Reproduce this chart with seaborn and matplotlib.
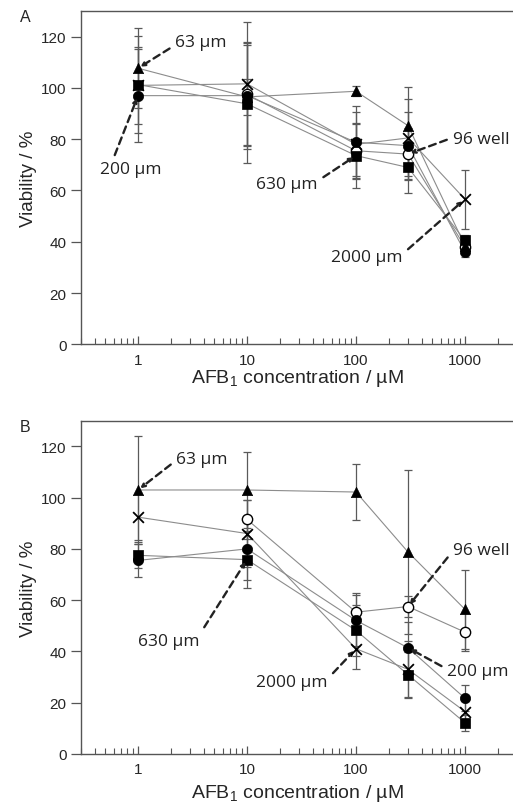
import matplotlib
matplotlib.use("Agg")
import matplotlib.pyplot as plt
from matplotlib.ticker import LogLocator, NullFormatter
import seaborn as sns
import pandas as pd
import numpy as np

conc = [1, 10, 100, 300, 1000]
series = ["63 µm", "200 µm", "630 µm", "2000 µm", "96 well"]

# panel A: viability (%) and error
a_63 = [107.7, 96.5, 98.7, 85.3, 38.5]
a_200 = [97.0, 97.0, 78.8, 77.5, 36.0]
a_630 = [101.3, 93.8, 73.6, 69.0, 40.5]
a_2000 = [101.0, 101.6, 78.0, 80.5, 56.6]
a_96 = [np.nan, 97.5, 75.5, 74.2, 38.0]
a_63_err = [15.5, 7, 2, 15, 3]
a_200_err = [18, 21, 14, 13, 2]
a_630_err = [19, 23, 12.5, 9.8, 2]
a_2000_err = [15, 24, 12.5, 15, 11.5]
a_96_err = [np.nan, 20, 11, 10, 2]

# panel B
b_63 = [103.0, 103.0, 102.2, 78.8, 56.4]
b_200 = [75.5, 80.0, 52.1, 41.4, 21.7]
b_630 = [77.5, 75.8, 48.2, 30.9, 12.1]
b_2000 = [92.4, 86.0, 41.0, 33.0, 16.5]
b_96 = [np.nan, 91.5, 55.3, 57.5, 47.5]
b_63_err = [21, 15, 11, 32, 15.5]
b_200_err = [6.5, 12, 10, 10, 5]
b_630_err = [5, 11, 10, 9, 3]
b_2000_err = [9, 13, 8, 11, 4]
b_96_err = [np.nan, 7.5, 7.5, 4, 7.5]

# label text, text centre, arrow target, arrow start on the text box
a_notes = [("63 µm", (3.78, 118), (1, 107.7), (0, 0.3)),
           ("200 µm", (0.86, 68.4), (1, 97), (0.2, 1)),
           ("630 µm", (23.3, 62.5), (100, 73.6), (1, 0.7)),
           ("96 well", (1403, 80), (300, 74.2), (0, 0.6)),
           ("2000 µm", (126, 34), (1000, 56.6), (1, 0.7))]
b_notes = [("63 µm", (3.86, 115.2), (1, 103), (0, 0.4)),
           ("96 well", (1403, 79.7), (300, 57.5), (0, 0.4)),
           ("630 µm", (1.92, 44.1), (10, 75.8), (1, 0.9)),
           ("2000 µm", (25.9, 28.1), (100, 41), (1, 0.7)),
           ("200 µm", (1316, 32.4), (300, 41.4), (0, 0.6))]

sns.set_style("ticks")
plt.rcParams['font.family'] = ['Liberation Sans', 'DejaVu Sans']
plt.rcParams['mathtext.default'] = 'regular'

markers = {"63 µm": "^", "200 µm": "o", "630 µm": "s", "2000 µm": "X", "96 well": "o"}


def draw(ax, vals, errs, notes, xpad):
    df = pd.DataFrame({
        "conc": np.tile(conc, len(series)),
        "val": np.concatenate(vals),
        "series": np.repeat(series, len(conc)),
    }).dropna()
    sns.lineplot(data=df, x="conc", y="val", units="series", estimator=None,
                 color="#8c8c8c", lw=0.8, ax=ax, sort=False, zorder=1)
    for name, v, e in zip(series, vals, errs):
        ax.errorbar(conc, v, yerr=e, fmt="none", ecolor="#5a5a5a",
                    elinewidth=0.9, capsize=3, capthick=0.9, zorder=2)
        sub = df[df["series"] == name]
        if name == "2000 µm":
            sns.scatterplot(data=sub, x="conc", y="val", marker="x", s=60,
                            color="black", linewidth=1.3, ax=ax, zorder=3.5)
        elif name == "96 well":
            # open circles sit underneath the filled markers
            sns.scatterplot(data=sub, x="conc", y="val", marker="o", s=55,
                            color="white", edgecolor="black", linewidth=1.0,
                            ax=ax, zorder=2.5)
        else:
            sns.scatterplot(data=sub, x="conc", y="val", marker=markers[name],
                            s=55, color="black", edgecolor="black",
                            linewidth=0.5, ax=ax, zorder=3)
    for text, xyt, xy, rp in notes:
        ax.annotate(text, xy=xy, xytext=xyt, ha="center", va="center",
                    fontsize=12.5, family=["Open Sans", "DejaVu Sans"],
                    color="#222222", annotation_clip=False,
                    arrowprops=dict(arrowstyle="-|>", ls=(0, (3, 2)), lw=1.7,
                                    color="#222222", shrinkA=2, shrinkB=2,
                                    mutation_scale=6, relpos=rp))
    ax.set_xscale("log")
    ax.set_xlim(0.3, 2760)
    ax.set_ylim(0, 130)
    ax.set_xticks([1, 10, 100, 1000])
    ax.set_xticklabels(["1", "10", "100", "1000"])
    ax.xaxis.set_minor_locator(LogLocator(base=10, subs=np.arange(2, 10)))
    ax.xaxis.set_minor_formatter(NullFormatter())
    ax.set_yticks([0, 20, 40, 60, 80, 100, 120])
    ax.tick_params(axis="x", which="major", direction="in", length=6,
                   width=0.9, color="#555555", labelsize=11, pad=6)
    ax.tick_params(axis="x", which="minor", direction="in", length=4,
                   width=0.8, color="#555555")
    ax.tick_params(axis="y", direction="out", length=7, width=0.9,
                   color="#555555", labelsize=11)
    for s in ["left", "bottom", "top"]:
        ax.spines[s].set_visible(True)
        ax.spines[s].set_color("#555555")
        ax.spines[s].set_linewidth(1.0)
    ax.spines["right"].set_visible(False)
    ax.set_xlabel("AFB$_1$ concentration / µM", fontsize=14, labelpad=xpad)
    ax.set_ylabel("Viability / %", fontsize=13.5, labelpad=3)


fig = plt.figure(figsize=(5.13, 8.03), dpi=100)
ax1 = fig.add_axes([0.158, 0.570, 0.842, 0.415])
ax2 = fig.add_axes([0.158, 0.060, 0.842, 0.4147])

draw(ax1, [a_63, a_200, a_630, a_2000, a_96],
     [a_63_err, a_200_err, a_630_err, a_2000_err, a_96_err], a_notes, 0)
draw(ax2, [b_63, b_200, b_630, b_2000, b_96],
     [b_63_err, b_200_err, b_630_err, b_2000_err, b_96_err], b_notes, 4)

fig.text(0.049, 0.978, "A", fontsize=11.5, ha="center", va="center")
fig.text(0.049, 0.467, "B", fontsize=11.5, ha="center", va="center")

fig.savefig("out.png", dpi=100)
